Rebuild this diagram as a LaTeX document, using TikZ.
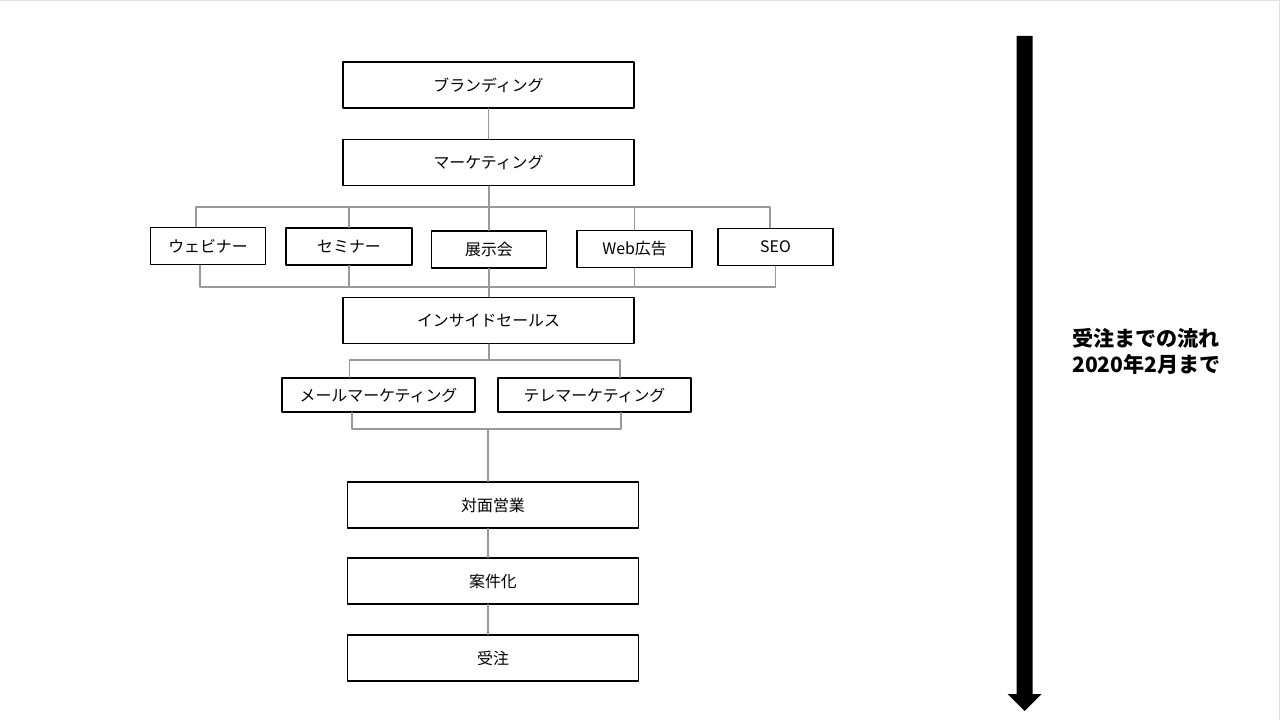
\documentclass[tikz,border=0pt]{standalone}
\usepackage{fontspec}
\setmainfont{Noto Sans CJK JP}
\usepackage{tikz}
\usetikzlibrary{positioning}
\definecolor{lnkgray}{rgb}{0.6,0.6,0.6}
\tikzset{
  box/.style={draw=black,line width=1pt,inner sep=0pt,font=\fontsize{11.3}{13}\selectfont},
  widebox/.style={box,minimum width=7.275cm,minimum height=1.15cm},
  smallbox/.style={box,minimum width=2.875cm,minimum height=0.925cm},
  midbox/.style={box,minimum width=4.825cm,minimum height=0.85cm},
  link/.style={draw=lnkgray,line width=1.1pt}
}
\begin{document}
\begin{tikzpicture}[line cap=round,line join=round,x=0.025cm,y=-0.025cm]
\useasboundingbox (0,0) rectangle (1280,720);
\draw [line width=0.03cm,color=black!12] (0,0.5) -- (1279.5,0.5) -- (1279.5,720);
\node [widebox] (brand) at (488.5,85) {ブランディング};
\node [widebox] (mkt) at (488.5,162.5) {マーケティング};
\node [smallbox] (web) at (208,246) {ウェビナー};
\node [smallbox,minimum width=3.15cm] (sem) at (349,246.5) {セミナー};
\node [smallbox] (expo) at (489,249.5) {展示会};
\node [smallbox] (ad) at (634.5,249) {Web広告};
\node [smallbox] (seo) at (775.5,247) {SEO};
\node [widebox] (inside) at (488.5,320.5) {インサイドセールス};
\node [midbox] (mail) at (378.5,395) {メールマーケティング};
\node [midbox] (tele) at (594.5,395) {テレマーケティング};
\node [widebox] (face) at (493,505) {対面営業};
\node [widebox] (deal) at (493,581) {案件化};
\node [widebox] (order) at (493,658) {受注};
\coordinate (busA) at (489,207);
\coordinate (busB) at (489,287);
\coordinate (busC) at (489,360);
\coordinate (busD) at (488,429);
\draw [link] (brand) -- (mkt);
\draw [link] (mkt.south -| expo) -- (expo.north);
\draw [link] ([xshift=-0.3cm]web.north) |- (busA);
\foreach \n in {sem,ad}
  \draw [link] (\n.north) |- (busA);
\draw [link] ([xshift=-0.14cm]seo.north) |- (busA);
\draw [link] ([xshift=-0.2cm]web.south) |- (busB);
\foreach \n in {sem,expo,ad,seo}
  \draw [link] (\n.south) |- (busB);
\draw [link] (expo.south) -- (inside.north -| expo);
\draw [link] (inside.south -| busC) -- (busC);
\draw [link] ([xshift=-0.72cm]mail.north) |- (busC);
\draw [link] ([xshift=0.64cm]tele.north) |- (busC);
\draw [link] ([xshift=-0.66cm]mail.south) |- (busD);
\draw [link] ([xshift=0.66cm]tele.south) |- (busD);
\draw [link] (busD) -- (busD |- face.north);
\draw [link] (face.south -| busD) -- (deal.north -| busD);
\draw [link] (deal.south -| busD) -- (order.north -| busD);
\fill [black] (1016.5,36) -- (1032.5,36) -- (1032.5,694) -- (1041.5,694) -- (1024.5,711) -- (1007.5,694) -- (1016.5,694) -- cycle;
\node [anchor=west,align=left,inner sep=0pt,font=\fontsize{15}{18.5}\selectfont\bfseries] (flow) at (1072,351) {受注までの流れ\\2020年2月まで};
\end{tikzpicture}
\end{document}
